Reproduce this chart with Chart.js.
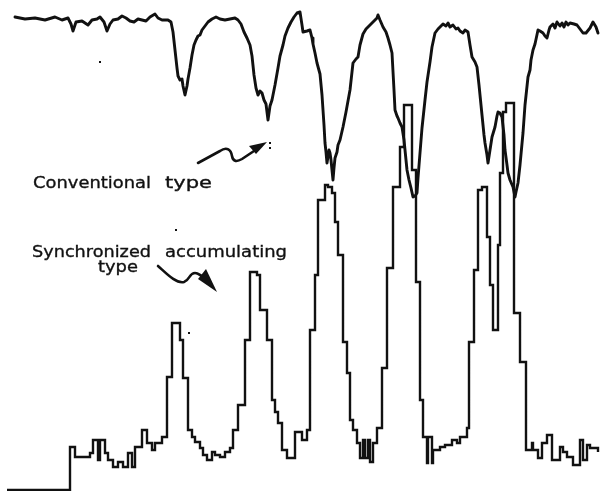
<!DOCTYPE html>
<html>
<head>
<meta charset="utf-8">
<script src="https://cdn.jsdelivr.net/npm/chart.js@4/dist/chart.umd.min.js"></script>
<style>
html,body{margin:0;padding:0;background:#fff;}
#c{display:block;}
</style>
</head>
<body>
<canvas id="c" width="600" height="491"></canvas>
<script>
// Conventional type trace: position along scan and signal depth (depth grows downward)
const convX = [15,25,35,45,55,62,68,71,73,76,82,88,92,97,100,104,107,110,113,118,122,126,130,134,138,142,146,150,155,158,162,168,171,173,175,177,178,180,182,183,185,187,188,190,192,194,196,198,200,202,205,208,212,216,220,225,230,235,238,241,244,247,250,252,254,256,258,260,262,264,266,268,270,272,275,278,280,283,285,288,291,294,297,300,302,303,307,310,312,313,315,317,320,322,323,324,325,326,327,329,330,331,333,334,335,337,338,340,343,346,350,352,353,356,358,360,363,366,370,374,377,378,380,383,386,388,390,392,394,395,397,398,400,402,404,407,409,411,413,415,417,418,420,422,425,427,430,432,435,438,440,443,446,448,450,453,456,458,460,463,465,468,470,472,475,477,479,482,484,485,487,488,490,492,495,497,498,500,502,504,505,507,508,510,513,515,516,518,520,523,525,528,530,531,533,535,538,540,543,545,547,549,550,553,555,557,560,562,564,566,568,570,574,577,580,583,586,590,593,596,598];
const convY = [17,19,18,20,17,20,18,24,31,22,21,25,20,19,17,22,31,24,20,19,16,18,21,22,19,20,21,17,14,18,20,20,22,32,50,68,76,80,79,86,95,86,79,68,55,45,40,36,35,30,26,22,19,17,19,20,19,18,20,24,32,38,45,56,75,88,95,91,93,100,104,120,106,100,85,68,56,45,36,28,22,17,13,12,25,32,31,30,38,44,53,63,74,95,110,125,143,152,163,150,153,160,180,168,158,152,145,140,127,112,90,72,63,59,57,45,34,29,25,21,18,15,20,27,32,38,45,53,90,110,116,118,123,127,140,170,180,188,197,196,193,178,153,128,100,82,62,47,33,29,27,24,26,23,27,25,29,28,31,33,30,32,45,57,62,67,85,115,135,143,155,163,150,137,127,116,112,113,117,135,150,165,173,180,187,197,192,183,165,133,105,77,70,60,50,44,30,31,33,36,38,30,27,24,28,22,26,23,27,22,25,23,24,25,29,33,33,28,22,27,33];

// Synchronized accumulating type trace: step start positions and step levels
const stepX = [7,70,75,90,93,98,100,105,108,113,118,123,128,132,135,142,147,152,155,162,167,172,180,183,188,192,195,200,203,207,212,215,220,225,230,233,238,245,250,257,260,267,272,275,278,282,287,295,302,307,310,315,318,325,328,332,335,338,343,347,350,353,357,360,363,365,368,370,373,377,382,387,393,400,404,412,416,420,423,427,428,432,433,440,445,452,457,460,467,469,474,478,482,487,490,493,498,500,503,506,514,520,526,532,533,538,542,547,552,560,563,567,573,580,583,587,590,598];
const stepY = [490,447,457,453,440,460,440,453,460,467,462,467,453,467,447,430,443,450,443,437,377,323,340,378,430,437,442,448,455,460,452,455,457,452,448,430,405,340,272,275,310,340,400,412,423,450,458,432,440,430,330,275,200,185,187,193,222,255,342,373,420,430,443,458,440,458,440,462,443,428,368,268,187,147,105,170,282,400,437,463,437,463,450,447,445,440,443,437,428,342,270,190,187,237,285,330,245,173,112,103,313,362,450,443,450,458,443,435,460,447,452,457,465,440,460,445,448,452,452];

const labelConv = "Conventional type";
const labelSync1 = "Synchronized accumulating";
const labelSync2 = "type";

const ink = "#111";

const annot = {
  id: 'annot',
  afterDraw(chart) {
    const ctx = chart.ctx;
    ctx.save();
    ctx.fillStyle = ink;
    ctx.strokeStyle = ink;
    ctx.textBaseline = 'alphabetic';
    function fitText(t, x, y, w, size) {
      ctx.font = size + 'px "DejaVu Sans"';
      const m = ctx.measureText(t).width;
      ctx.save();
      ctx.translate(x, y);
      ctx.scale(w / m, 1);
      ctx.lineWidth = 0.35;
      ctx.fillText(t, 0, 0);
      ctx.strokeText(t, 0, 0);
      ctx.restore();
    }
    // each label line is laid out word by word, as in the original lettering
    function words(line, x, y, widths, gap, size) {
      const parts = line.split(' ');
      let cx = x;
      parts.forEach((p, i) => { fitText(p, cx, y, widths[i], size); cx += widths[i] + gap; });
    }
    words(labelConv, 33, 188, [118, 47], 14, 16.5);
    words(labelSync1, 32, 257, [119, 122], 14, 16.5);
    fitText(labelSync2, 98, 272, 40, 16.5);

    // arrow to conventional trace
    ctx.lineWidth = 2.6;
    ctx.lineCap = 'round';
    ctx.lineJoin = 'round';
    ctx.beginPath();
    ctx.moveTo(198, 163);
    ctx.lineTo(220, 151);
    ctx.bezierCurveTo(227, 146, 231, 150, 232, 156);
    ctx.bezierCurveTo(233, 162, 237, 162, 242, 159);
    ctx.lineTo(254, 151);
    ctx.stroke();
    ctx.beginPath();
    ctx.moveTo(267, 142);
    ctx.lineTo(249, 146);
    ctx.lineTo(256, 154);
    ctx.closePath();
    ctx.fill();

    // arrow to synchronized trace
    ctx.beginPath();
    ctx.moveTo(158, 266);
    ctx.bezierCurveTo(166, 273, 176, 284, 184, 282);
    ctx.bezierCurveTo(190, 280, 189, 273, 195, 273);
    ctx.bezierCurveTo(199, 273, 200, 276, 204, 277);
    ctx.stroke();
    ctx.beginPath();
    ctx.moveTo(217, 292);
    ctx.lineTo(198, 279);
    ctx.lineTo(206, 269);
    ctx.closePath();
    ctx.fill();

    // stray specks of the original print
    ctx.fillRect(99, 61, 2, 2);
    ctx.fillRect(175, 229, 2, 2);
    ctx.fillRect(269, 142, 2, 2);
    ctx.fillRect(269, 147, 2, 2);
    ctx.fillRect(188, 332, 2, 2);
    ctx.restore();
  }
};

new Chart(document.getElementById('c'), {
  type: 'line',
  data: {
    datasets: [
      {
        label: labelConv,
        data: convX.map((x, i) => ({x: x, y: convY[i]})),
        borderColor: ink,
        borderWidth: 2.9,
        pointRadius: 0,
        tension: 0,
        borderJoinStyle: 'round',
        borderCapStyle: 'round'
      },
      {
        label: labelSync1 + ' ' + labelSync2,
        data: stepX.map((x, i) => ({x: x, y: stepY[i]})),
        borderColor: ink,
        borderWidth: 2.4,
        pointRadius: 0,
        stepped: 'before',
        borderJoinStyle: 'miter'
      }
    ]
  },
  options: {
    responsive: false,
    animation: false,
    devicePixelRatio: 1,
    layout: { padding: 0 },
    plugins: { legend: { display: false }, tooltip: { enabled: false } },
    scales: {
      x: { type: 'linear', min: 0, max: 600, display: false },
      y: { type: 'linear', min: 0, max: 491, reverse: true, display: false }
    }
  },
  plugins: [annot]
});
</script>
</body>
</html>
